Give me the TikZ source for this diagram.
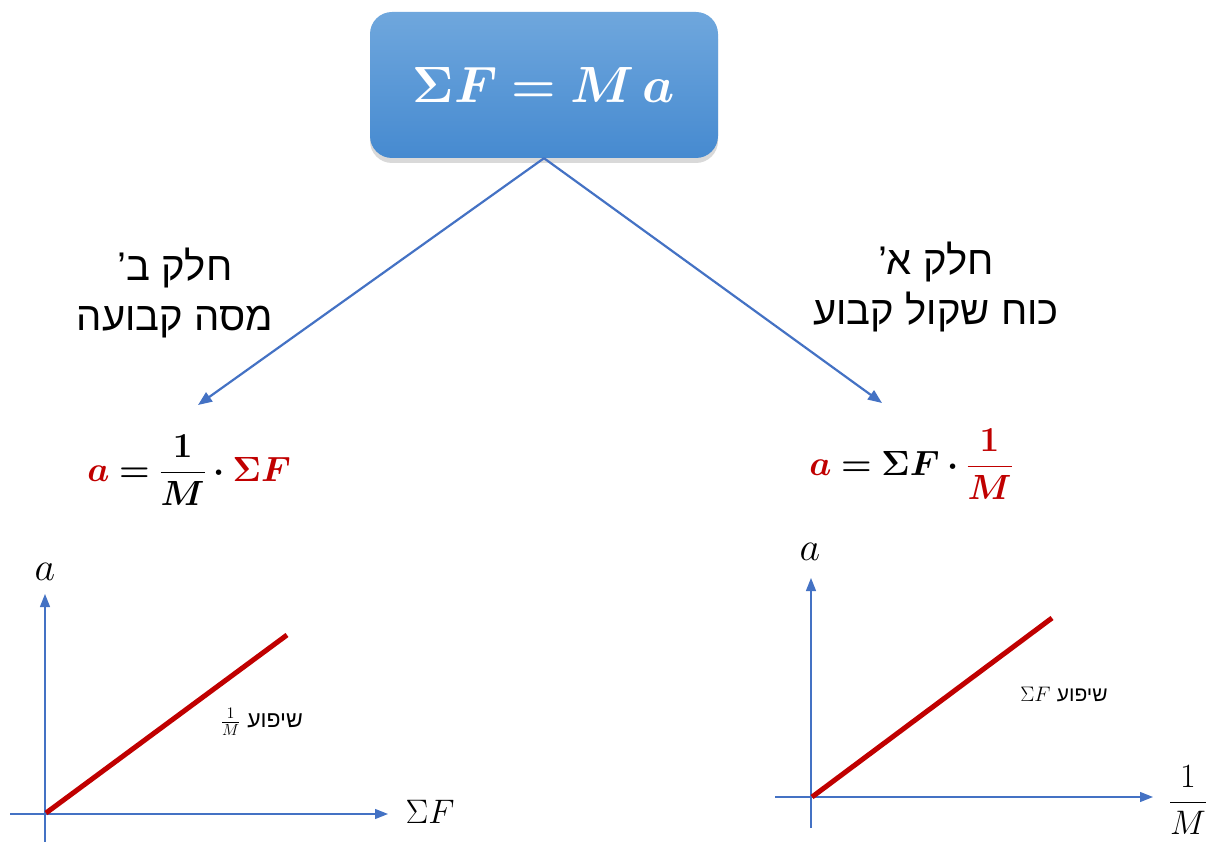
\RequirePackage{fix-cm}
\documentclass[tikz,border=0pt]{standalone}
\usepackage{amsmath}
\usepackage{bm}
\usepackage{fontspec}
\newfontfamily\heb[Script=Hebrew]{Liberation Sans}
\TeXXeTstate=1
\usetikzlibrary{arrows.meta,shadows}
\definecolor{axblue}{RGB}{68,114,196}
\definecolor{dred}{RGB}{192,0,0}
\definecolor{boxtop}{RGB}{111,167,221}
\definecolor{boxbot}{RGB}{70,138,208}
\tikzset{
  topbox/.style={rounded corners=22pt, minimum width=348pt, minimum height=146pt,
    top color=boxtop, bottom color=boxbot, draw=none, text=white,
    drop shadow={opacity=0.3, shadow xshift=0pt, shadow yshift=-5pt}},
  conn/.style={draw=axblue, line width=2.2pt, -{Triangle[length=14pt,width=11pt]}},
  axis/.style={draw=axblue, line width=1.3pt, -{Triangle[length=13pt,width=10pt]}},
  redline/.style={draw=dred, line width=5pt},
  heblabel/.style={font=\heb\fontsize{40}{50}\selectfont, align=center},
  eqn/.style={font=\fontsize{35}{42}\selectfont},
  axlabel/.style={font=\fontsize{40}{44}\selectfont},
  slope/.style={font=\fontsize{21}{24}\selectfont}
}
\begin{document}
\begin{tikzpicture}[x=1pt,y=-1pt]
\useasboundingbox (0,0) rectangle (1213,842);
% top box
\node[topbox] (top) at (544,85) {\fontsize{51}{56}\selectfont $\bm{\Sigma F = M\,a}$};
% labels
\node[heblabel] (partB) at (175,293) {\beginR חלק ב’\endR\\\beginR מסה קבועה\endR};
\node[heblabel] (partA) at (936,287) {\beginR חלק א’\endR\\\beginR כוח שקול קבוע\endR};
% connector ends
\coordinate (lt) at (198,405);
\coordinate (rt) at (882,403);
\draw[conn] (top.south) -- (lt);
\draw[conn] (top.south) -- (rt);
% equations
\node[eqn] (eqL) at (189,470) {$\bm{{\color{dred}a}={}}\dfrac{\bm{1}}{\bm{M}}\bm{\cdot}{\color{dred}\bm{\Sigma F}}$};
\node[eqn] (eqR) at (911,464) {$\bm{{\color{dred}a}=\Sigma F\cdot}{\color{dred}\dfrac{\bm{1}}{\bm{M}}}$};
% left graph
\coordinate (lyb) at (45,842);
\coordinate (lyt) at (45,594);
\coordinate (lxl) at (10,814);
\coordinate (lxr) at (388,814);
\coordinate (lo) at (46,813);
\coordinate (le) at (287,635);
\draw[axis] (lyb) -- (lyt);
\draw[axis] (lxl) -- (lxr);
\draw[redline] (lo) -- (le);
\node[axlabel] (la) at (45,572) {$a$};
\node[font=\fontsize{34}{38}\selectfont] (lsf) at (430,812) {$\Sigma F$};
\node[slope] (lslope) at (262,722) {\fontsize{23}{26}\selectfont$\frac{1}{M}$ {\heb\beginR שיפוע\endR}};
% right graph
\coordinate (ryb) at (811,828);
\coordinate (ryt) at (811,578);
\coordinate (rxl) at (775,797);
\coordinate (rxr) at (1153,797);
\coordinate (ro) at (812,797);
\coordinate (re) at (1052,618);
\draw[axis] (ryb) -- (ryt);
\draw[axis] (rxl) -- (rxr);
\draw[redline] (ro) -- (re);
\node[axlabel] (ra) at (810,552) {$a$};
\node[font=\fontsize{34}{38}\selectfont] (rm) at (1188,800) {$\dfrac{1}{M}$};
\node[slope] (rslope) at (1064,694) {$\Sigma F$ {\heb\beginR שיפוע\endR}};
\end{tikzpicture}
\end{document}
